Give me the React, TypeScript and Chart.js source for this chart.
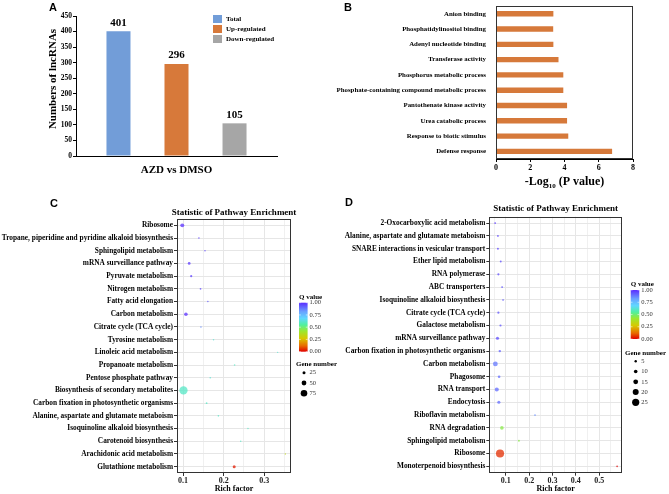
import React, { useEffect, useRef } from 'react';
import { Chart, registerables } from 'chart.js';

Chart.register(...registerables);

const SERIF = '"Liberation Serif", "Times New Roman", Times, serif';
const SANS = '"Liberation Sans", Arial, Helvetica, sans-serif';

// ---------------- Panel A data ----------------
const A_GROUP = 'AZD vs DMSO';
const A_SERIES = ['Total', 'Up-regulated', 'Down-regulated'];
const A_VALUES = [401, 296, 105];
const A_COLORS = ['#729dd8', '#d7793a', '#a6a6a6'];
const A_Y_TITLE = 'Numbers of lncRNAs';

// ---------------- Panel B data ----------------
const B_TERMS = [
  'Anion binding',
  'Phosphatidylinositol binding',
  'Adenyl nucleotide binding',
  'Transferase activity',
  'Phosphorus metabolic process',
  'Phosphate-containing compound metabolic process',
  'Pantothenate kinase activity',
  'Urea catabolic process',
  'Response to biotic stimulus',
  'Defense response',
];
const B_VALUES = [3.35, 3.34, 3.35, 3.65, 3.93, 3.93, 4.15, 4.15, 4.22, 6.78];

// ---------------- Panel C data ----------------
const C_PATHWAYS = [
  'Ribosome',
  'Tropane, piperidine and pyridine alkaloid biosynthesis',
  'Sphingolipid metabolism',
  'mRNA surveillance pathway',
  'Pyruvate metabolism',
  'Nitrogen metabolism',
  'Fatty acid elongation',
  'Carbon metabolism',
  'Citrate cycle (TCA cycle)',
  'Tyrosine metabolism',
  'Linoleic acid metabolism',
  'Propanoate metabolism',
  'Pentose phosphate pathway',
  'Biosynthesis of secondary metabolites',
  'Carbon fixation in photosynthetic organisms',
  'Alanine, aspartate and glutamate metaboism',
  'Isoquinoline alkaloid biosynthesis',
  'Carotenoid biosynthesis',
  'Arachidonic acid metabolism',
  'Glutathione metabolism',
];
const C_RICH = [0.098, 0.139, 0.154, 0.115, 0.120, 0.143, 0.161, 0.107, 0.144, 0.175, 0.333, 0.227, 0.167, 0.101, 0.158, 0.187, 0.260, 0.242, 0.352, 0.226];
const C_GENES = [38, 6, 5, 22, 14, 7, 5, 33, 6, 4, 3, 5, 6, 98, 8, 6, 3, 4, 3, 25];
const C_Q = [0.99, 0.97, 0.96, 0.98, 0.97, 0.96, 0.93, 0.99, 0.85, 0.62, 0.62, 0.6, 0.62, 0.6, 0.6, 0.6, 0.6, 0.6, 0.33, 0.03];
const C_GENE_BREAKS = [25, 50, 75];

// ---------------- Panel D data ----------------
const D_PATHWAYS = [
  '2-Oxocarboxylic acid metabolism',
  'Alanine, aspartate and glutamate metaboism',
  'SNARE interactions in vesicular transport',
  'Ether lipid metabolism',
  'RNA polymerase',
  'ABC transporters',
  'Isoquinoline alkaloid biosynthesis',
  'Citrate cycle (TCA cycle)',
  'Galactose metabolism',
  'mRNA surveillance pathway',
  'Carbon fixation in photosynthetic organisms',
  'Carbon metabolism',
  'Phagosome',
  'RNA transport',
  'Endocytosis',
  'Riboflavin metabolism',
  'RNA degradation',
  'Sphingolipid metabolism',
  'Ribosome',
  'Monoterpenoid biosynthesis',
];
const D_RICH = [0.054, 0.066, 0.066, 0.078, 0.068, 0.084, 0.088, 0.068, 0.077, 0.064, 0.074, 0.055, 0.071, 0.061, 0.070, 0.225, 0.083, 0.156, 0.075, 0.577];
const D_GENES = [3, 3, 3, 3, 4, 3, 2, 4, 4, 8, 5, 15, 6, 12, 8, 2, 10, 3, 29, 2];
const D_Q = [0.97, 0.96, 0.96, 0.95, 0.95, 0.94, 0.93, 0.94, 0.94, 0.95, 0.92, 0.88, 0.9, 0.9, 0.9, 0.85, 0.45, 0.45, 0.05, 0.0];
const D_GENE_BREAKS = [5, 10, 15, 20, 25];

const Q_BREAKS = [1.0, 0.75, 0.5, 0.25, 0.0];
const PLOT_TITLE = 'Statistic of Pathway Enrichment';
const X_TITLE_CD = 'Rich factor';

// ---------------- colour / size helpers ----------------
const Q_STOPS: [number, string][] = [
  [0.0, '#e00000'],
  [0.12, '#e86a00'],
  [0.27, '#d8c800'],
  [0.42, '#9be830'],
  [0.55, '#50f0a0'],
  [0.68, '#60d8ff'],
  [0.82, '#6aa0ff'],
  [1.0, '#5a2cff'],
];

function hexToRgb(h: string) {
  const n = parseInt(h.slice(1), 16);
  return [(n >> 16) & 255, (n >> 8) & 255, n & 255];
}

function qColor(q: number, alpha = 1) {
  let i = 0;
  while (i < Q_STOPS.length - 2 && q > Q_STOPS[i + 1][0]) i++;
  const [v0, c0] = Q_STOPS[i];
  const [v1, c1] = Q_STOPS[i + 1];
  const t = Math.max(0, Math.min(1, (q - v0) / (v1 - v0)));
  const a = hexToRgb(c0);
  const b = hexToRgb(c1);
  const m = a.map((x, k) => Math.round(x + (b[k] - x) * t));
  return `rgba(${m[0]},${m[1]},${m[2]},${alpha})`;
}

const radiusC = (n: number) => 0.6 + 0.036 * n;
const radiusD = (n: number) => 0.6 + 0.12 * n;

// ---------------- plugins ----------------
function letterPlugin(letter: string, x: number, y: number) {
  return {
    id: 'panelLetter' + letter,
    afterDraw(chart: any) {
      const ctx = chart.ctx;
      ctx.save();
      ctx.font = `bold 11px ${SANS}`;
      ctx.fillStyle = '#000';
      ctx.textAlign = 'left';
      ctx.textBaseline = 'top';
      ctx.fillText(letter, x, y);
      ctx.restore();
    },
  };
}

const framePlugin = {
  id: 'frame',
  afterDraw(chart: any) {
    const { left, top, right, bottom } = chart.chartArea;
    const ctx = chart.ctx;
    ctx.save();
    ctx.strokeStyle = '#333';
    ctx.lineWidth = 1;
    ctx.strokeRect(Math.round(left) + 0.5, Math.round(top) + 0.5, Math.round(right - left) - 1, Math.round(bottom - top) - 1);
    ctx.restore();
  },
};

const barValuePlugin = {
  id: 'barValues',
  afterDatasetsDraw(chart: any) {
    const ctx = chart.ctx;
    ctx.save();
    ctx.font = `bold 11px ${SERIF}`;
    ctx.fillStyle = '#000';
    ctx.textAlign = 'center';
    ctx.textBaseline = 'bottom';
    chart.data.datasets.forEach((ds: any, i: number) => {
      chart.getDatasetMeta(i).data.forEach((el: any, j: number) => {
        ctx.fillText(String(ds.data[j]), el.x, el.y - 3);
      });
    });
    ctx.restore();
  },
};

const aLegendPlugin = {
  id: 'aLegend',
  afterDraw(chart: any) {
    const ctx = chart.ctx;
    const x = chart.chartArea.right - 64;
    ctx.save();
    ctx.font = `bold 7px ${SERIF}`;
    ctx.textAlign = 'left';
    ctx.textBaseline = 'middle';
    chart.data.datasets.forEach((ds: any, i: number) => {
      const y = 15 + i * 10;
      ctx.fillStyle = ds.backgroundColor;
      ctx.fillRect(x, y, 9, 8);
      ctx.fillStyle = '#000';
      ctx.fillText(ds.label, x + 13, y + 4.5);
    });
    ctx.restore();
  },
};

const aYTitlePlugin = {
  id: 'aYTitle',
  afterDraw(chart: any) {
    const ctx = chart.ctx;
    ctx.save();
    ctx.translate(53, 79);
    ctx.rotate(-Math.PI / 2);
    ctx.font = `bold 11px ${SERIF}`;
    ctx.fillStyle = '#000';
    ctx.textAlign = 'center';
    ctx.textBaseline = 'middle';
    ctx.fillText(A_Y_TITLE, 0, 0);
    ctx.restore();
  },
};

const bXTitlePlugin = {
  id: 'bXTitle',
  afterDraw(chart: any) {
    const ctx = chart.ctx;
    const { left, right } = chart.chartArea;
    const cx = (left + right) / 2;
    const y = 182;
    const big = `bold 12px ${SERIF}`;
    const small = `bold 7px ${SERIF}`;
    ctx.save();
    ctx.fillStyle = '#000';
    ctx.textBaseline = 'middle';
    ctx.textAlign = 'left';
    ctx.font = big;
    const w1 = ctx.measureText('-Log').width;
    const w3 = ctx.measureText(' (P value)').width;
    ctx.font = small;
    const w2 = ctx.measureText('10').width;
    let x = cx - (w1 + w2 + w3) / 2;
    ctx.font = big;
    ctx.fillText('-Log', x, y);
    x += w1;
    ctx.font = small;
    ctx.fillText('10', x, y + 4);
    x += w2;
    ctx.font = big;
    ctx.fillText(' (P value)', x, y);
    ctx.restore();
  },
};

function plotTitlePlugin(y: number) {
  return {
    id: 'plotTitle',
    afterDraw(chart: any) {
      const ctx = chart.ctx;
      const { left, right } = chart.chartArea;
      ctx.save();
      ctx.font = `bold 9px ${SERIF}`;
      ctx.fillStyle = '#000';
      ctx.textAlign = 'center';
      ctx.textBaseline = 'middle';
      ctx.fillText(PLOT_TITLE, (left + right) / 2, y);
      ctx.restore();
    },
  };
}

function enrichLegendPlugin(cfg: {
  x: number; barTop: number; barBottom: number; geneTitleY: number; geneX: number;
  geneTop: number; step: number; breaks: number[]; radius: (n: number) => number;
}) {
  return {
    id: 'enrichLegend',
    afterDraw(chart: any) {
      const ctx = chart.ctx;
      const bw = 8.6;
      ctx.save();
      ctx.textAlign = 'left';
      ctx.textBaseline = 'middle';
      ctx.fillStyle = '#000';
      ctx.font = `bold 7px ${SERIF}`;
      ctx.fillText('Q value', cfg.x, cfg.barTop - 6);
      const g = ctx.createLinearGradient(0, cfg.barTop, 0, cfg.barBottom);
      Q_STOPS.forEach(([v, c]) => g.addColorStop(1 - v, c));
      ctx.fillStyle = g;
      ctx.fillRect(cfg.x, cfg.barTop, bw, cfg.barBottom - cfg.barTop);
      ctx.font = `6.5px ${SERIF}`;
      Q_BREAKS.forEach((q) => {
        const y = cfg.barBottom - q * (cfg.barBottom - cfg.barTop);
        ctx.strokeStyle = 'rgba(255,255,255,0.9)';
        ctx.lineWidth = 0.6;
        ctx.beginPath();
        ctx.moveTo(cfg.x, y);
        ctx.lineTo(cfg.x + 1.8, y);
        ctx.moveTo(cfg.x + bw - 1.8, y);
        ctx.lineTo(cfg.x + bw, y);
        ctx.stroke();
        ctx.fillStyle = '#333';
        ctx.fillText(q.toFixed(2), cfg.x + bw + 2, y);
      });
      ctx.fillStyle = '#000';
      ctx.font = `bold 7px ${SERIF}`;
      ctx.fillText('Gene number', cfg.geneX, cfg.geneTitleY);
      ctx.font = `6.5px ${SERIF}`;
      cfg.breaks.forEach((n, i) => {
        const y = cfg.geneTop + i * cfg.step;
        ctx.fillStyle = '#000';
        ctx.beginPath();
        ctx.arc(cfg.x + 5, y, cfg.radius(n), 0, Math.PI * 2);
        ctx.fill();
        ctx.fillStyle = '#333';
        ctx.fillText(String(n), cfg.x + bw + 2, y);
      });
      ctx.restore();
    },
  };
}

// ---------------- chart builders ----------------
function buildA(): any {
  return {
    type: 'bar',
    data: {
      labels: [A_GROUP],
      datasets: A_SERIES.map((s, i) => ({
        label: s,
        data: [A_VALUES[i]],
        backgroundColor: A_COLORS[i],
        borderWidth: 0,
        categoryPercentage: 0.866,
        barPercentage: 0.414,
      })),
    },
    options: {
      responsive: false,
      animation: false,
      devicePixelRatio: 1,
      layout: { padding: { left: 0, top: 16, right: 53, bottom: 0 } },
      plugins: { legend: { display: false }, tooltip: { enabled: false } },
      scales: {
        x: {
          ticks: { display: false },
          grid: { display: false },
          border: { color: '#000', width: 1 },
          title: {
            display: true,
            text: A_GROUP,
            color: '#000',
            font: { family: SERIF, size: 11, weight: 'bold' },
            padding: { top: 0, bottom: 19 },
          },
          afterFit: (s: any) => { s.height = 40; },
        },
        y: {
          min: 0,
          max: 450,
          ticks: { stepSize: 50, color: '#000', padding: 1, font: { family: SERIF, size: 7.5, weight: 'bold' } },
          grid: { drawOnChartArea: false, tickLength: 3, tickColor: '#000' },
          border: { color: '#000', width: 1 },
          afterFit: (s: any) => { s.width = 76; },
        },
      },
    },
    plugins: [barValuePlugin, aLegendPlugin, aYTitlePlugin, letterPlugin('A', 49, 2)],
  };
}

function buildB(): any {
  return {
    type: 'bar',
    data: {
      labels: B_TERMS,
      datasets: [{ data: B_VALUES, backgroundColor: '#d6793a', borderWidth: 0, categoryPercentage: 1, barPercentage: 0.35 }],
    },
    options: {
      indexAxis: 'y',
      responsive: false,
      animation: false,
      devicePixelRatio: 1,
      layout: { padding: { left: 0, top: 6, right: 36, bottom: 0 } },
      plugins: { legend: { display: false }, tooltip: { enabled: false } },
      scales: {
        x: {
          min: 0,
          max: 8,
          ticks: { stepSize: 2, color: '#000', padding: 1, font: { family: SERIF, size: 8, weight: 'bold' } },
          grid: { drawOnChartArea: false, tickLength: 3, tickColor: '#000' },
          border: { color: '#000', width: 1 },
          afterFit: (s: any) => { s.height = 37; },
        },
        y: {
          ticks: { color: '#000', padding: 2, autoSkip: false, font: { family: SERIF, size: 6.85, weight: 'bold' } },
          grid: { display: false },
          border: { color: '#000', width: 1 },
          afterFit: (s: any) => { s.width = 166; },
        },
      },
    },
    plugins: [framePlugin, bXTitlePlugin, letterPlugin('B', 14, 2)],
  };
}

function buildEnrichment(
  pathways: string[], rich: number[], genes: number[], qs: number[], radius: (n: number) => number,
  geo: { top: number; right: number; yWidth: number; xHeight: number; xMin: number; xMax: number; titleY: number },
  legend: any, letter: any,
): any {
  const isMajor = (v: number) => Math.abs(v * 10 - Math.round(v * 10)) < 1e-6;
  return {
    type: 'bubble',
    data: {
      datasets: [{
        data: pathways.map((p, i) => ({ x: rich[i], y: p, r: radius(genes[i]) })),
        backgroundColor: qs.map((q) => qColor(q, 0.75)),
        borderWidth: 0,
        hoverBorderWidth: 0,
      }],
    },
    options: {
      responsive: false,
      animation: false,
      devicePixelRatio: 1,
      layout: { padding: { left: 0, top: geo.top, right: geo.right, bottom: 0 } },
      plugins: { legend: { display: false }, tooltip: { enabled: false } },
      scales: {
        x: {
          type: 'linear',
          min: geo.xMin,
          max: geo.xMax,
          ticks: {
            stepSize: 0.05,
            includeBounds: false,
            autoSkip: false,
            maxRotation: 0,
            padding: 0,
            color: '#222',
            font: { family: SERIF, size: 8, weight: 'bold' },
            callback: (v: any) => (isMajor(Number(v)) ? Number(v).toFixed(1) : ''),
          },
          grid: {
            color: '#e6e6e6',
            lineWidth: (c: any) => (c.tick && isMajor(c.tick.value) ? 1 : 0.6),
            tickLength: 3,
            tickColor: (c: any) => (c.tick && isMajor(c.tick.value) ? '#333' : 'rgba(0,0,0,0)'),
          },
          border: { display: false },
          title: {
            display: true,
            text: X_TITLE_CD,
            color: '#000',
            font: { family: SERIF, size: 8, weight: 'bold' },
            padding: { top: 0, bottom: 0 },
          },
          afterFit: (s: any) => { s.height = geo.xHeight; },
        },
        y: {
          type: 'category',
          labels: pathways,
          offset: true,
          ticks: { color: '#000', padding: 1, autoSkip: false, font: { family: SERIF, size: 7.35, weight: 'bold' } },
          grid: { color: '#e6e6e6', offset: false, tickLength: 3, tickColor: '#333' },
          border: { display: false },
          afterFit: (s: any) => { s.width = geo.yWidth; },
        },
      },
    },
    plugins: [framePlugin, plotTitlePlugin(geo.titleY), legend, letter],
  };
}

function buildC(): any {
  return buildEnrichment(
    C_PATHWAYS, C_RICH, C_GENES, C_Q, radiusC,
    { top: 24, right: 49, yWidth: 177, xHeight: 21, xMin: 0.085, xMax: 0.366, titleY: 18 },
    enrichLegendPlugin({ x: 299, barTop: 107.7, barBottom: 156.7, geneTitleY: 169, geneX: 296, geneTop: 177.7, step: 10.3, breaks: C_GENE_BREAKS, radius: radiusC }),
    letterPlugin('C', 50, 3),
  );
}

function buildD(): any {
  return buildEnrichment(
    D_PATHWAYS, D_RICH, D_GENES, D_Q, radiusD,
    { top: 21.7, right: 47, yWidth: 149.3, xHeight: 21.3, xMin: 0.029, xMax: 0.598, titleY: 14 },
    enrichLegendPlugin({ x: 290.7, barTop: 95, barBottom: 144, geneTitleY: 158.3, geneX: 285, geneTop: 166.3, step: 10.25, breaks: D_GENE_BREAKS, radius: radiusD }),
    letterPlugin('D', 5, 2),
  );
}

// ---------------- components ----------------
function ChartBox({ left, top, width, height, build }: { left: number; top: number; width: number; height: number; build: () => any }) {
  const ref = useRef<HTMLCanvasElement | null>(null);
  useEffect(() => {
    if (!ref.current) return;
    const chart = new Chart(ref.current, build());
    return () => chart.destroy();
  }, []);
  return (
    <div style={{ position: 'absolute', left, top, width, height }}>
      <canvas ref={ref} width={width} height={height} style={{ display: 'block', width, height }} />
    </div>
  );
}

export default function App() {
  return (
    <div style={{ position: 'absolute', left: 0, top: 0, width: 669, height: 494, background: '#fff', overflow: 'hidden' }}>
      <ChartBox left={0} top={0} width={330} height={196} build={buildA} />
      <ChartBox left={330} top={0} width={339} height={196} build={buildB} />
      <ChartBox left={0} top={195} width={340} height={299} build={buildC} />
      <ChartBox left={340} top={195} width={329} height={299} build={buildD} />
    </div>
  );
}
